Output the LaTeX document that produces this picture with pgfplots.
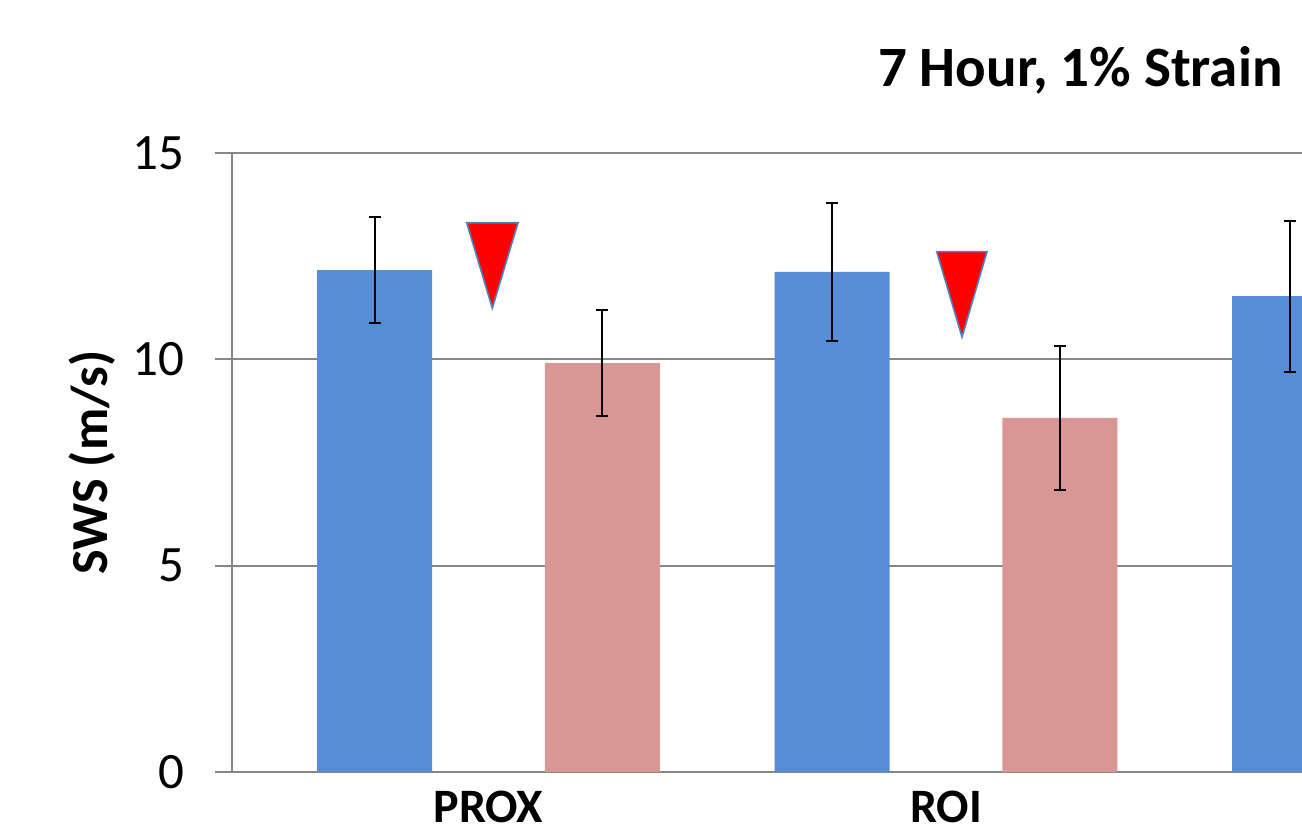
\documentclass[border=0pt]{standalone}
\usepackage{pgfplots}
\pgfplotsset{compat=1.18}
\usepackage{fontspec}
\setmainfont{Carlito}
\definecolor{barblue}{RGB}{85,142,213}
\definecolor{barpink}{RGB}{217,150,148}
\definecolor{gridgray}{RGB}{134,134,134}
\definecolor{triedge}{RGB}{79,129,189}
\begin{document}
\begin{tikzpicture}
\useasboundingbox (-116pt,-32.5pt) rectangle (535pt,386pt);
\begin{axis}[
  scale only axis, width=535pt, height=309.5pt,
  xmin=-0.5607, xmax=1.7781, ymin=0, ymax=15,
  axis x line*=bottom, axis y line*=left,
  ytick={0,5,10,15}, xtick={0,1}, xticklabels={PROX,ROI},
  ymajorgrids, grid style={gridgray, line width=1pt},
  axis line style={gridgray, line width=1pt},
  y tick style={gridgray, line width=1pt}, major tick length=8.5pt, tick align=outside,
  x tick style={draw=none},
  /pgf/number format/assume math mode=true,
  yticklabel style={font=\fontsize{25.5}{25.5}\selectfont, xshift=-12pt},
  xticklabel style={font=\bfseries\fontsize{24}{24}\selectfont, anchor=base, yshift=-16.5pt},
  ylabel={SWS (m/s)},
  ylabel style={font=\bfseries\fontsize{26}{26}\selectfont, at={(axis description cs:-0.131,0.5)}, anchor=center},
]
\addplot[ybar, bar shift=0pt, bar width=0.2514, fill=barblue, draw=none, mark=none,
  error bars/.cd, y dir=both, y explicit,
  error bar style={black, line width=1pt},
  error mark options={rotate=90, mark size=3pt, line width=1pt, black}]
  coordinates {(-0.249,12.16) +- (0,1.28) (0.751,12.12) +- (0,1.675) (1.751,11.53) +- (0,1.83)};
\addplot[ybar, bar shift=0pt, bar width=0.2514, fill=barpink, draw=none, mark=none,
  error bars/.cd, y dir=both, y explicit,
  error bar style={black, line width=1pt},
  error mark options={rotate=90, mark size=3pt, line width=1pt, black}]
  coordinates {(0.249,9.91) +- (0,1.295) (1.249,8.58) +- (0,1.745)};
\addplot[fill=red, draw=triedge, line width=0.8pt, mark=none]
  coordinates {(-0.0477,13.31) (0.0645,13.31) (0.0083,11.24)} -- cycle;
\addplot[fill=red, draw=triedge, line width=0.8pt, mark=none]
  coordinates {(0.9797,12.61) (1.0896,12.61) (1.0350,10.54)} -- cycle;
\end{axis}
\node[anchor=base east, inner sep=0pt, font=\bfseries\fontsize{28.5}{28.5}\selectfont] at (525.5pt,342.5pt) {7 Hour, 1\% Strain};
\end{tikzpicture}
\end{document}
